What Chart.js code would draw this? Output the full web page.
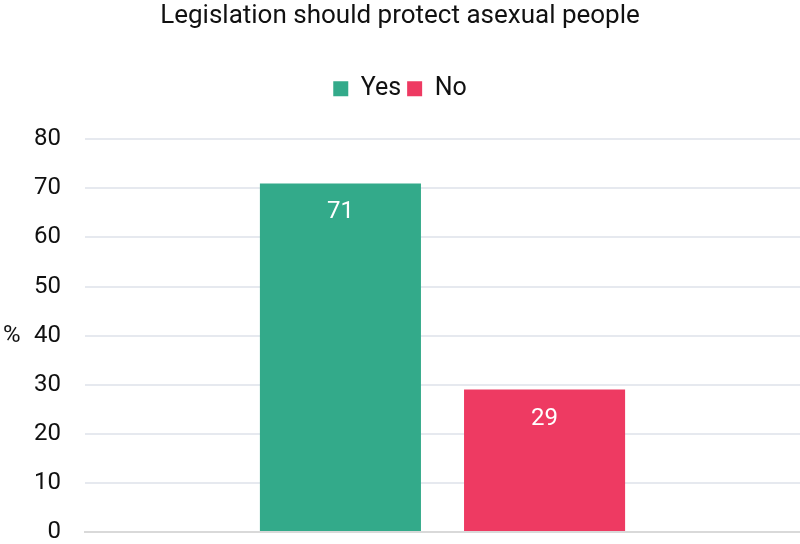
<!DOCTYPE html>
<html>
<head>
<meta charset="utf-8">
<script src="https://cdn.jsdelivr.net/npm/chart.js@4"></script>
<style>
  html, body { margin: 0; padding: 0; background: #fff; }
  #wrap { width: 800px; height: 544px; }
</style>
</head>
<body>
<div id="wrap"><canvas id="grafico"></canvas></div>
<script>
// dados do gráfico
const categorias = [''];
const seriesNomes = ['Yes', 'No'];
const valoresSim = [71];
const valoresNao = [29];
const coresSeries = ['#33aa8a', '#ee3a62'];
const fonte = "Roboto, 'Liberation Sans', sans-serif";

// rótulos de valor dentro das barras
const rotulosBarras = {
  id: 'rotulosBarras',
  afterDatasetsDraw(chart) {
    const ctx = chart.ctx;
    ctx.save();
    ctx.fillStyle = '#ffffff';
    ctx.font = '24px ' + fonte;
    ctx.textAlign = 'center';
    ctx.textBaseline = 'middle';
    chart.data.datasets.forEach((ds, i) => {
      chart.getDatasetMeta(i).data.forEach((bar, j) => {
        ctx.fillText(String(ds.data[j]), bar.x, bar.y + 29);
      });
    });
    ctx.restore();
  }
};

// "%" ao lado do eixo y, sem rotação
const unidadeEixo = {
  id: 'unidadeEixo',
  afterDraw(chart) {
    const y = chart.scales.y;
    const ctx = chart.ctx;
    ctx.save();
    ctx.fillStyle = '#111';
    ctx.font = '24px ' + fonte;
    ctx.textAlign = 'left';
    ctx.textBaseline = 'middle';
    ctx.fillText('%', 3, y.getPixelForValue(40));
    ctx.restore();
  }
};

// espaço extra entre a legenda e a área do gráfico
const espacoLegenda = {
  id: 'espacoLegenda',
  beforeInit(chart) {
    const fitOriginal = chart.legend.fit;
    chart.legend.fit = function () {
      fitOriginal.call(this);
      this.height += 28;
    };
  }
};

new Chart(document.getElementById('grafico'), {
  type: 'bar',
  data: {
    labels: categorias,
    datasets: [
      { label: seriesNomes[0], data: valoresSim, backgroundColor: coresSeries[0] },
      { label: seriesNomes[1], data: valoresNao, backgroundColor: coresSeries[1] }
    ]
  },
  options: {
    responsive: true,
    maintainAspectRatio: false,
    animation: false,
    categoryPercentage: 0.571,
    barPercentage: 0.789,
    layout: { padding: { left: 0, right: 0, top: 1, bottom: 10 } },
    plugins: {
      title: {
        display: true,
        text: 'Legislation should protect asexual people',
        color: '#111',
        font: { family: fonte, size: 26, weight: 'normal' },
        padding: { top: 0, bottom: 38 }
      },
      legend: {
        display: true,
        labels: {
          color: '#111',
          font: { family: fonte, size: 25 },
          boxWidth: 15,
          boxHeight: 15,
          padding: 6
        }
      },
      tooltip: { enabled: false }
    },
    scales: {
      x: {
        ticks: { display: false },
        grid: { display: false },
        border: { color: '#d9d9d9', width: 2 },
        afterFit(scale) { scale.height = 2; }
      },
      y: {
        min: 0,
        max: 80,
        ticks: {
          stepSize: 10,
          color: '#111',
          font: { family: fonte, size: 24 },
          padding: 24
        },
        grid: { color: '#e6e9ef', lineWidth: 2, drawTicks: false },
        border: { display: false },
        afterFit(scale) {
          scale.width = 85;
          scale.paddingTop = 0;
          scale.paddingBottom = 0;
        }
      }
    }
  },
  plugins: [rotulosBarras, unidadeEixo, espacoLegenda]
});
</script>
</body>
</html>
